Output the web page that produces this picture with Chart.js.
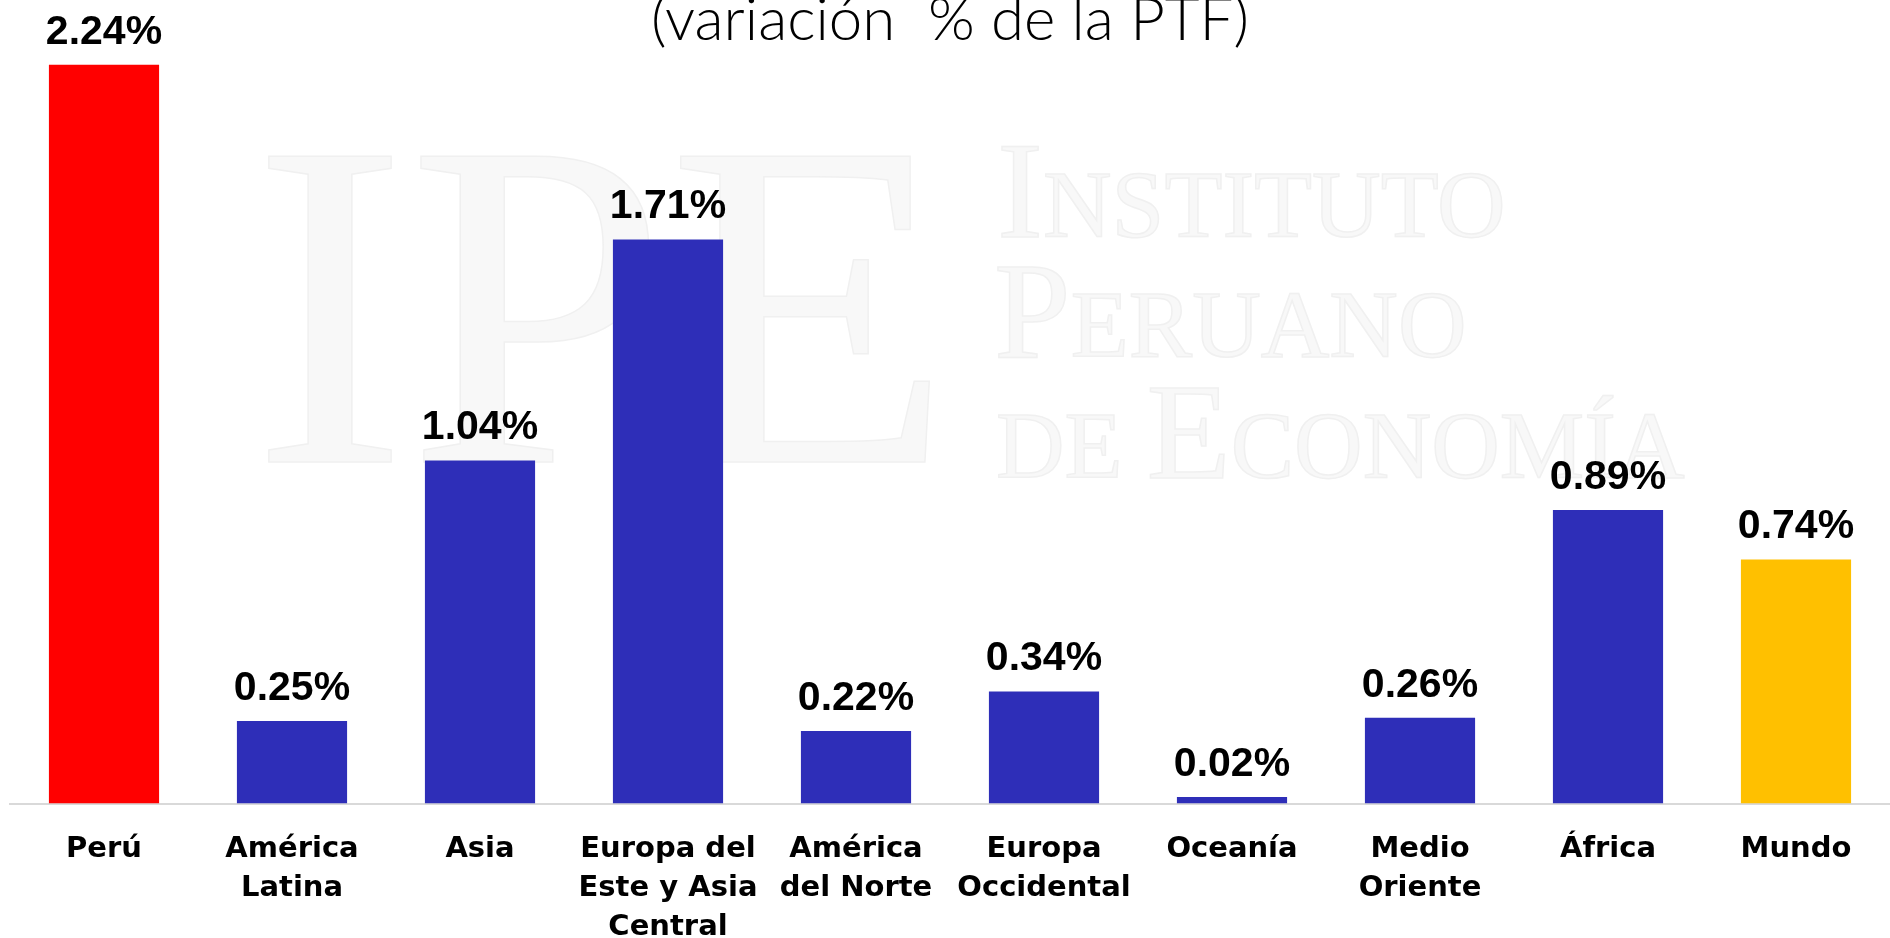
<!DOCTYPE html>
<html>
<head>
<meta charset="utf-8">
<script src="https://cdn.jsdelivr.net/npm/chart.js@4.4.0/dist/chart.umd.min.js"></script>
<style>
  html, body { margin: 0; padding: 0; background: #fff; overflow: hidden; width: 1890px; height: 938px; }
  #wrap { position: absolute; left: 0; top: -40px; width: 1890px; height: 1018px; }
</style>
</head>
<body>
<div id="wrap"><canvas id="ptfChart" width="1890" height="1018"></canvas></div>
<script>
  // the picture is cropped at top and bottom, so the canvas overhangs the window by OFF px
  const OFF = 40;

  const categories = [
    ['Perú'], ['América', 'Latina'], ['Asia'], ['Europa del', 'Este y Asia', 'Central'],
    ['América', 'del Norte'], ['Europa', 'Occidental'], ['Oceanía'], ['Medio', 'Oriente'],
    ['África'], ['Mundo']
  ];
  const ptfValues = [2.24, 0.25, 1.04, 1.71, 0.22, 0.34, 0.02, 0.26, 0.89, 0.74];
  const barColors = ['#ff0000', '#2e2eb8', '#2e2eb8', '#2e2eb8', '#2e2eb8',
                     '#2e2eb8', '#2e2eb8', '#2e2eb8', '#2e2eb8', '#ffc000'];
  const titleText = '(variación  % de la PTF)';

  // draw one line of small caps, segments: [text, big?]
  function smallCapsLine(ctx, segs, x, y, big, small) {
    let cx = x;
    for (const [txt, isBig] of segs) {
      ctx.font = (isBig ? big : small) + 'px "Liberation Serif"';
      ctx.fillText(txt, cx, y);
      ctx.strokeText(txt, cx, y);
      cx += ctx.measureText(txt).width;
    }
  }

  // faint IPE logo behind the bars
  const watermark = {
    id: 'ipeWatermark',
    beforeDatasetsDraw(chart) {
      const ctx = chart.ctx;
      ctx.save();
      ctx.fillStyle = '#f8f8f8';
      ctx.strokeStyle = '#f0f0f0';
      ctx.lineWidth = 1.5;
      ctx.textAlign = 'left';
      ctx.textBaseline = 'alphabetic';
      ctx.font = '467px "Liberation Serif"';
      ctx.fillText('IPE', 252, 462 + OFF);
      ctx.strokeText('IPE', 252, 462 + OFF);
      smallCapsLine(ctx, [['I', true], ['NSTITUTO', false]], 997, 237 + OFF, 138, 95);
      smallCapsLine(ctx, [['P', true], ['ERUANO', false]], 994, 357 + OFF, 138, 95);
      smallCapsLine(ctx, [['DE ', false], ['E', true], ['CONOMÍA', false]], 996, 478 + OFF, 138, 95);
      ctx.restore();
    }
  };

  // value labels above each bar
  const valueLabels = {
    id: 'valueLabels',
    afterDatasetsDraw(chart) {
      const ctx = chart.ctx;
      const meta = chart.getDatasetMeta(0);
      ctx.save();
      ctx.font = 'bold 41px "Liberation Sans"';
      ctx.fillStyle = '#000';
      ctx.textAlign = 'center';
      ctx.textBaseline = 'alphabetic';
      meta.data.forEach((bar, i) => {
        ctx.fillText(ptfValues[i].toFixed(2) + '%', bar.x, bar.y - 21);
      });
      ctx.restore();
    }
  };

  const ctx = document.getElementById('ptfChart').getContext('2d');
  new Chart(ctx, {
    type: 'bar',
    data: {
      labels: categories,
      datasets: [{
        data: ptfValues,
        backgroundColor: barColors,
        borderWidth: 0,
        categoryPercentage: 1,
        barPercentage: 0.586
      }]
    },
    options: {
      responsive: false,
      animation: false,
      layout: { padding: { left: 10, right: 0, top: 0, bottom: 5 } },
      plugins: {
        legend: { display: false },
        tooltip: { enabled: false },
        title: {
          display: true,
          text: titleText,
          color: '#000',
          font: { family: 'Lato', size: 60, weight: 300 },
          padding: { top: 25, bottom: 6 }
        }
      },
      scales: {
        x: {
          grid: { display: false, drawTicks: false },
          border: { display: true, color: '#d9d9d9', width: 2 },
          ticks: {
            color: '#000',
            padding: 26,
            maxRotation: 0,
            autoSkip: false,
            font: { family: 'DejaVu Sans', size: 29, weight: 'bold', lineHeight: 1.35 }
          }
        },
        y: {
          display: false,
          min: 0,
          max: 2.245
        }
      }
    },
    plugins: [watermark, valueLabels]
  });
</script>
</body>
</html>
